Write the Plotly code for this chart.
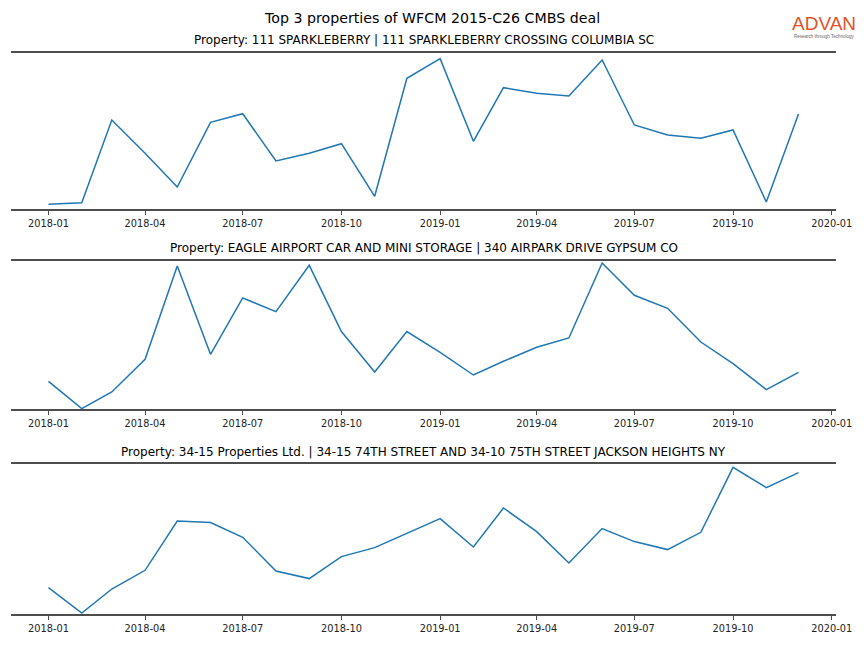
import pandas as pd
import plotly.graph_objects as go

months = pd.date_range("2018-01-01", "2019-12-01", freq="MS")

titles = [
    "Property: 111 SPARKLEBERRY | 111 SPARKLEBERRY CROSSING COLUMBIA SC",
    "Property: EAGLE AIRPORT CAR AND MINI STORAGE | 340 AIRPARK DRIVE GYPSUM CO",
    "Property: 34-15 Properties Ltd. | 34-15 74TH STREET AND 34-10 75TH STREET JACKSON HEIGHTS NY",
]

sparkleberry = [4.7, 6.3, 89, 55.7, 22, 86.7, 95.3, 48, 55.7, 65.3, 12.7, 130.7,
                150.3, 67.7, 121.3, 115.7, 113, 149, 84, 74, 70.7, 79, 7, 95]
eagle = [27.7, 0.4, 17, 49.7, 143, 54.7, 111, 97.4, 143.7, 77.4, 37, 77.4,
         56.7, 34, 47.7, 61.7, 71, 146, 113.7, 100.7, 67, 45.4, 19.4, 36.7]
jackson = [26.4, 1, 25, 43.7, 93, 91.4, 76.7, 43, 35.4, 57.4, 66.4, 80.4,
           95.4, 67, 106, 82.4, 51, 85.4, 72.4, 64.4, 81.7, 146.7, 126.4, 141.4]

series = [sparkleberry, eagle, jackson]
y_tops = [156, 148, 150]  # upper y-limits (lower limit 0)

tick_vals = pd.date_range("2018-01-01", "2020-01-01", freq="3MS")
tick_text = [d.strftime("%Y-%m") for d in tick_vals]

W, H = 864, 648
# plot areas in pixels (top, bottom)
areas = [(53, 209), (261, 409), (464, 614)]
x_left, x_right = 11, 836

fig = go.Figure()
span = months[-1] - months[0]
x_range = [months[0] - 0.05 * span, months[-1] + 0.05 * span]

for i, (vals, title, (t, b), ytop) in enumerate(zip(series, titles, areas, y_tops), start=1):
    xa = "x" if i == 1 else f"x{i}"
    ya = "y" if i == 1 else f"y{i}"
    fig.add_trace(go.Scatter(x=months, y=vals, mode="lines",
                             line=dict(color="#1f77b4", width=1.5),
                             xaxis=xa, yaxis=ya, showlegend=False,
                             cliponaxis=False, hoverinfo="x+y"))
    key = "" if i == 1 else str(i)
    fig.update_layout(**{
        f"xaxis{key}": dict(
            domain=[x_left / W, x_right / W],
            anchor=ya, range=x_range, automargin=False,
            showline=True, mirror=True, linecolor="#4d4d4d", linewidth=2,
            showgrid=False, zeroline=False,
            tickmode="array", tickvals=list(tick_vals), ticktext=tick_text,
            ticks="outside", ticklen=4, tickwidth=1, tickcolor="#4d4d4d",
            tickfont=dict(family="DejaVu Sans", size=9.8, color="#222"),
        ),
        f"yaxis{key}": dict(
            domain=[1 - b / H, 1 - t / H],
            anchor=xa, range=[0, ytop], automargin=False,
            showline=False, showgrid=False, zeroline=False,
            showticklabels=False, ticks="",
        ),
    })
    fig.add_annotation(text=title, xref="paper", yref="paper",
                       x=(x_left + x_right) / 2 / W, y=1 - (t - 3.5) / H,
                       xanchor="center", yanchor="bottom", showarrow=False,
                       font=dict(family="DejaVu Sans", size=12, color="#000"))

fig.add_annotation(text="Top 3 properties of WFCM 2015-C26 CMBS deal",
                   xref="paper", yref="paper", x=0.5, y=1 - 28 / H,
                   xanchor="center", yanchor="bottom", showarrow=False,
                   font=dict(family="DejaVu Sans", size=14.2, color="#000"))

# ADVAN logo as text
fig.add_annotation(text="ADVAN", xref="paper", yref="paper",
                   x=824 / W, y=1 - 36 / H, xanchor="center", yanchor="bottom",
                   showarrow=False,
                   font=dict(family="Liberation Sans", size=19, color="#e2532a"))
fig.add_annotation(text="Research through Technology", xref="paper", yref="paper",
                   x=824 / W, y=1 - 41 / H, xanchor="center", yanchor="bottom",
                   showarrow=False,
                   font=dict(family="Liberation Sans", size=4.5, color="#666"))

fig.update_layout(width=W, height=H,
                  margin=dict(l=0, r=0, t=0, b=0, pad=0, autoexpand=False),
                  paper_bgcolor="white", plot_bgcolor="white")

fig.write_html("out.html",
               config={"displayModeBar": False, "responsive": False},
               post_script="document.body.style.margin='0';document.body.style.overflow='hidden';")
